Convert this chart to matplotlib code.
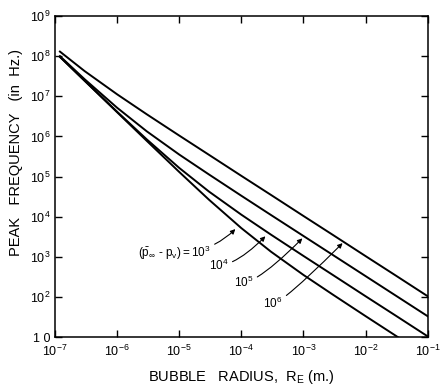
import numpy as np
import matplotlib
matplotlib.use('Agg')
import matplotlib.pyplot as plt

plt.rcParams['font.family'] = ['Liberation Sans', 'DejaVu Sans']
plt.rcParams['mathtext.fontset'] = 'custom'
plt.rcParams['mathtext.rm'] = 'Liberation Sans'
plt.rcParams['mathtext.it'] = 'Liberation Sans:italic'
plt.rcParams['mathtext.bf'] = 'Liberation Sans:bold'

# bubble radius (m) and peak frequency (Hz)
radius = [1.2e-7, 3e-7, 1e-6, 3e-6, 1e-5, 3e-5, 1e-4, 3e-4, 1e-3, 3e-3, 1e-2, 3e-2, 1e-1]
f_1e6 = [1.30e8, 4.24e7, 1.12e7, 3.56e6, 1.05e6, 3.49e5, 1.04e5, 3.48e4, 1.04e4, 3.48e3, 1.04e3, 348, 104]
f_1e5 = [1.00e8, 2.66e7, 5.18e6, 1.34e6, 3.53e5, 1.13e5, 3.32e4, 1.10e4, 3.30e3, 1.10e3, 330, 110, 33]
f_1e4 = [9.63e7, 2.45e7, 4.12e6, 8.43e5, 1.64e5, 4.24e4, 1.12e4, 3.56e3, 1.05e3, 349, 104, 34.8, 10.4]
f_1e3 = [9.60e7, 2.43e7, 4.00e6, 7.75e5, 1.30e5, 2.66e4, 5.18e3, 1.34e3, 353, 113, 33.2, 11.0, 3.3]

xticks = [1e-7, 1e-6, 1e-5, 1e-4, 1e-3, 1e-2, 1e-1]
xlabels = ['10$^{-7}$', '10$^{-6}$', '10$^{-5}$', '10$^{-4}$', '10$^{-3}$', '10$^{-2}$', '10$^{-1}$']
yticks = [1e1, 1e2, 1e3, 1e4, 1e5, 1e6, 1e7, 1e8, 1e9]
ylabels = ['1 0', '10$^{2}$', '10$^{3}$', '10$^{4}$', '10$^{5}$', '10$^{6}$', '10$^{7}$', '10$^{8}$', '10$^{9}$']

fig = plt.figure(figsize=(4.45, 3.91), dpi=100)
ax = fig.add_axes([0.1236, 0.138, 0.8375, 0.821])

for f in [f_1e6, f_1e5, f_1e4, f_1e3]:
    ax.plot(radius, f, color='black', lw=1.4)

ax.set_xscale('log')
ax.set_yscale('log')
ax.set_xlim(1e-7, 1e-1)
ax.set_ylim(10, 1e9)
ax.set_xticks(xticks)
ax.set_xticklabels(xlabels)
ax.set_yticks(yticks)
ax.set_yticklabels(ylabels)
ax.minorticks_off()
ax.tick_params(direction='in', length=5, width=1, top=True, right=True,
               labelsize=9, pad=3)
ax.tick_params(axis='x', pad=5)
for s in ax.spines.values():
    s.set_linewidth(1.1)

ax.set_xlabel('BUBBLE   RADIUS,  R$_\\mathrm{E}$ (m.)', fontsize=10.5)
ax.set_ylabel('PEAK   FREQUENCY   (in  Hz.)', fontsize=10.5)
ax.yaxis.set_label_coords(-0.085, 0.576)
ax.xaxis.set_label_coords(0.5, -0.095)

# labels for the curves
notes = [('$(\\bar{\\mathrm{p}}_{\\infty}$ - $\\mathrm{p_v}) = 10^{3}$', (8.0e-5, 4900), (3.2e-5, 1230)),
         ('10$^{4}$', (2.44e-4, 3240), (6.2e-5, 617)),
         ('10$^{5}$', (9.6e-4, 2880), (1.56e-4, 234)),
         ('10$^{6}$', (4.26e-3, 2190), (4.6e-4, 69))]
for txt, tip, pos in notes:
    ax.annotate(txt, xy=tip, xytext=pos, ha='right', va='center', fontsize=8.5,
                arrowprops=dict(arrowstyle='-|>', color='black', lw=0.8,
                                mutation_scale=7, shrinkA=1, shrinkB=0,
                                connectionstyle='angle3,angleA=0,angleB=45'))

fig.savefig('out.png', dpi=100)
